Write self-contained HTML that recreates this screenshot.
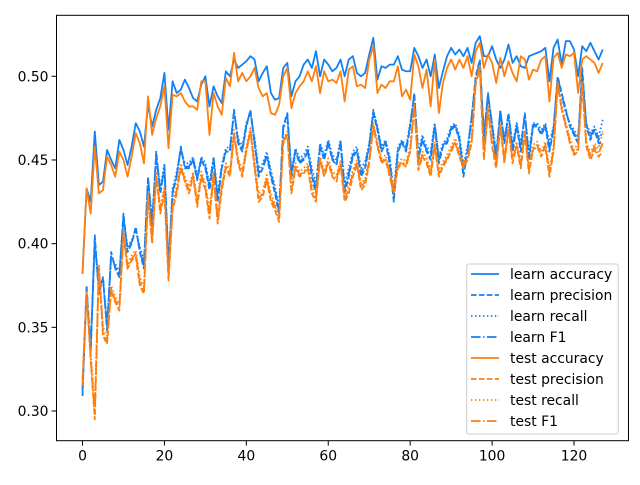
<!DOCTYPE html>
<html><head><meta charset="utf-8"><style>
html,body{margin:0;padding:0;background:#fff;}
svg text{font-family:"DejaVu Sans","Liberation Sans",sans-serif;font-size:13.9px;fill:#000;}
</style></head><body>
<svg id="chart" width="640" height="480" xmlns="http://www.w3.org/2000/svg">
<rect width="640" height="480" fill="#fff"/>
<g id="series"></g>
<rect x="56.5" y="15.3" width="572" height="425.4" fill="none" stroke="#000" stroke-width="1"/>
<g id="xticks"></g>
<g id="yticks"></g>
<g id="legend"></g>
</svg>
<script>
const xTicks=[0,20,40,60,80,100,120];
const yTicks=[0.30,0.35,0.40,0.45,0.50];
const yTickLabels=["0.30","0.35","0.40","0.45","0.50"];
const seriesNames=["learn accuracy","learn precision","learn recall","learn F1","test accuracy","test precision","test recall","test F1"];
const learnAccuracy=[0.382,0.433,0.425,0.467,0.435,0.437,0.456,0.450,0.445,0.462,0.456,0.447,0.458,0.472,0.467,0.458,0.483,0.470,0.480,0.487,0.502,0.468,0.497,0.490,0.492,0.498,0.493,0.487,0.485,0.495,0.500,0.482,0.494,0.488,0.484,0.503,0.500,0.510,0.505,0.507,0.509,0.512,0.510,0.497,0.502,0.506,0.490,0.486,0.487,0.505,0.508,0.488,0.497,0.500,0.507,0.510,0.505,0.515,0.500,0.510,0.507,0.503,0.505,0.510,0.500,0.510,0.512,0.502,0.500,0.502,0.513,0.523,0.498,0.506,0.505,0.507,0.507,0.512,0.504,0.503,0.503,0.517,0.512,0.505,0.510,0.500,0.513,0.493,0.503,0.512,0.517,0.513,0.516,0.512,0.517,0.508,0.520,0.524,0.512,0.512,0.518,0.510,0.505,0.510,0.519,0.508,0.512,0.506,0.505,0.512,0.513,0.514,0.515,0.517,0.497,0.517,0.522,0.507,0.521,0.521,0.516,0.500,0.518,0.515,0.520,0.515,0.510,0.516];
const learnPrecision=[0.309,0.375,0.335,0.405,0.370,0.380,0.348,0.395,0.385,0.380,0.418,0.395,0.400,0.410,0.395,0.385,0.440,0.410,0.455,0.430,0.445,0.385,0.430,0.440,0.458,0.445,0.445,0.450,0.438,0.450,0.445,0.432,0.450,0.425,0.445,0.455,0.455,0.480,0.460,0.455,0.470,0.480,0.460,0.440,0.445,0.452,0.440,0.430,0.418,0.470,0.478,0.440,0.455,0.448,0.450,0.455,0.440,0.430,0.458,0.450,0.460,0.450,0.447,0.460,0.430,0.440,0.452,0.455,0.440,0.445,0.458,0.478,0.468,0.455,0.460,0.448,0.425,0.455,0.460,0.455,0.470,0.490,0.450,0.462,0.455,0.450,0.470,0.448,0.458,0.460,0.468,0.470,0.462,0.440,0.455,0.475,0.500,0.510,0.462,0.490,0.470,0.450,0.480,0.460,0.478,0.455,0.470,0.455,0.478,0.450,0.470,0.470,0.465,0.470,0.455,0.468,0.500,0.490,0.480,0.470,0.465,0.460,0.505,0.470,0.462,0.468,0.460,0.460];
const learnRecall=[0.315,0.372,0.340,0.400,0.375,0.378,0.352,0.392,0.388,0.383,0.415,0.398,0.402,0.408,0.398,0.390,0.438,0.415,0.452,0.433,0.448,0.390,0.433,0.443,0.456,0.448,0.448,0.452,0.440,0.452,0.448,0.436,0.452,0.430,0.447,0.457,0.458,0.478,0.463,0.458,0.472,0.478,0.463,0.445,0.448,0.455,0.444,0.434,0.422,0.468,0.476,0.444,0.457,0.451,0.453,0.458,0.445,0.436,0.460,0.453,0.462,0.453,0.450,0.462,0.436,0.445,0.455,0.458,0.445,0.449,0.460,0.480,0.470,0.458,0.462,0.452,0.432,0.458,0.462,0.458,0.472,0.488,0.455,0.465,0.458,0.455,0.472,0.452,0.460,0.463,0.470,0.472,0.465,0.447,0.458,0.476,0.498,0.508,0.466,0.488,0.472,0.455,0.478,0.463,0.477,0.460,0.472,0.460,0.477,0.455,0.472,0.472,0.468,0.472,0.460,0.470,0.498,0.488,0.478,0.472,0.468,0.464,0.500,0.472,0.466,0.470,0.464,0.474];
const learnF1=[0.312,0.373,0.337,0.402,0.372,0.379,0.350,0.393,0.386,0.381,0.416,0.396,0.401,0.409,0.396,0.387,0.439,0.412,0.453,0.431,0.446,0.387,0.431,0.441,0.457,0.446,0.446,0.451,0.439,0.451,0.446,0.434,0.451,0.427,0.446,0.456,0.456,0.479,0.461,0.456,0.471,0.479,0.461,0.442,0.446,0.453,0.442,0.432,0.420,0.469,0.477,0.442,0.456,0.449,0.451,0.456,0.442,0.433,0.459,0.451,0.461,0.451,0.448,0.461,0.433,0.442,0.453,0.456,0.442,0.447,0.459,0.479,0.469,0.456,0.461,0.450,0.428,0.456,0.461,0.456,0.471,0.489,0.452,0.463,0.456,0.452,0.471,0.450,0.459,0.461,0.469,0.471,0.463,0.443,0.456,0.475,0.499,0.509,0.464,0.489,0.471,0.452,0.479,0.461,0.477,0.457,0.471,0.457,0.477,0.452,0.471,0.471,0.466,0.471,0.457,0.469,0.499,0.489,0.479,0.471,0.466,0.462,0.502,0.471,0.464,0.469,0.462,0.467];
const testAccuracy=[0.382,0.433,0.418,0.458,0.430,0.432,0.452,0.447,0.440,0.455,0.450,0.440,0.452,0.466,0.460,0.448,0.488,0.465,0.475,0.482,0.494,0.457,0.489,0.488,0.490,0.485,0.482,0.482,0.480,0.497,0.497,0.465,0.490,0.482,0.477,0.499,0.494,0.514,0.497,0.502,0.497,0.500,0.505,0.493,0.488,0.490,0.478,0.477,0.483,0.500,0.505,0.481,0.490,0.494,0.497,0.503,0.497,0.506,0.490,0.503,0.497,0.498,0.496,0.503,0.485,0.504,0.506,0.494,0.495,0.493,0.510,0.518,0.490,0.495,0.493,0.497,0.497,0.506,0.488,0.492,0.486,0.513,0.506,0.493,0.504,0.482,0.510,0.478,0.496,0.505,0.510,0.504,0.510,0.505,0.512,0.500,0.515,0.520,0.505,0.513,0.508,0.496,0.511,0.500,0.509,0.502,0.497,0.512,0.510,0.498,0.504,0.503,0.510,0.512,0.485,0.511,0.514,0.505,0.513,0.512,0.514,0.490,0.510,0.512,0.510,0.508,0.502,0.508];
const testPrecision=[0.315,0.370,0.330,0.295,0.385,0.345,0.340,0.372,0.365,0.360,0.405,0.385,0.390,0.392,0.375,0.370,0.428,0.400,0.440,0.418,0.430,0.378,0.420,0.430,0.445,0.437,0.430,0.440,0.422,0.440,0.432,0.415,0.440,0.412,0.432,0.445,0.440,0.465,0.448,0.440,0.455,0.467,0.445,0.425,0.428,0.438,0.425,0.420,0.413,0.460,0.465,0.430,0.445,0.440,0.442,0.445,0.430,0.425,0.450,0.440,0.448,0.440,0.437,0.447,0.425,0.430,0.440,0.447,0.432,0.435,0.448,0.470,0.458,0.448,0.450,0.440,0.430,0.445,0.448,0.446,0.455,0.482,0.444,0.452,0.448,0.440,0.458,0.440,0.446,0.450,0.455,0.460,0.452,0.445,0.450,0.460,0.495,0.505,0.450,0.480,0.458,0.445,0.470,0.448,0.468,0.448,0.458,0.445,0.465,0.442,0.456,0.458,0.452,0.458,0.440,0.455,0.495,0.480,0.470,0.460,0.453,0.455,0.495,0.458,0.450,0.456,0.452,0.455];
const testRecall=[0.320,0.372,0.335,0.302,0.388,0.350,0.345,0.375,0.368,0.364,0.408,0.388,0.393,0.396,0.380,0.374,0.430,0.405,0.443,0.422,0.434,0.382,0.424,0.434,0.448,0.440,0.434,0.443,0.426,0.443,0.436,0.420,0.443,0.417,0.436,0.448,0.444,0.468,0.451,0.444,0.458,0.469,0.449,0.430,0.432,0.441,0.430,0.424,0.418,0.462,0.467,0.434,0.448,0.443,0.445,0.448,0.435,0.430,0.452,0.443,0.451,0.443,0.441,0.450,0.430,0.435,0.444,0.450,0.436,0.439,0.451,0.472,0.461,0.451,0.453,0.444,0.435,0.448,0.451,0.449,0.458,0.484,0.448,0.455,0.451,0.444,0.461,0.444,0.449,0.453,0.458,0.463,0.455,0.449,0.453,0.463,0.497,0.507,0.454,0.482,0.461,0.449,0.472,0.452,0.470,0.452,0.461,0.449,0.467,0.446,0.459,0.461,0.455,0.461,0.445,0.458,0.497,0.482,0.472,0.463,0.456,0.460,0.497,0.461,0.454,0.460,0.457,0.466];
const testF1=[0.318,0.371,0.332,0.298,0.386,0.347,0.342,0.373,0.366,0.362,0.406,0.386,0.391,0.394,0.377,0.372,0.429,0.402,0.441,0.420,0.432,0.380,0.422,0.432,0.446,0.438,0.432,0.441,0.424,0.441,0.434,0.417,0.441,0.414,0.434,0.446,0.442,0.466,0.449,0.442,0.456,0.468,0.447,0.427,0.430,0.439,0.427,0.422,0.415,0.461,0.466,0.432,0.446,0.441,0.443,0.446,0.432,0.427,0.451,0.441,0.449,0.441,0.439,0.448,0.427,0.432,0.442,0.448,0.434,0.437,0.449,0.471,0.459,0.449,0.451,0.442,0.432,0.446,0.449,0.447,0.456,0.483,0.446,0.453,0.449,0.442,0.459,0.442,0.447,0.451,0.456,0.461,0.453,0.447,0.451,0.461,0.496,0.506,0.452,0.481,0.459,0.447,0.471,0.450,0.469,0.450,0.459,0.447,0.466,0.444,0.457,0.459,0.453,0.459,0.442,0.456,0.496,0.481,0.471,0.461,0.454,0.457,0.496,0.459,0.452,0.458,0.454,0.460];

const NS="http://www.w3.org/2000/svg";
const L=56.5,R=628.5,T=15.3,B=440.7;
function xs(i){return 82.5+i*4.096;}
function ys(v){return 411+(0.30-v)*(334.7/0.20);}
const BLUE="#1380f4",ORANGE="#ff7f0e";
const dashes=["", "5.55,2.4", "1.5,2.475", "9.6,2.4,1.5,2.4"];
const allSeries=[learnAccuracy,learnPrecision,learnRecall,learnF1,testAccuracy,testPrecision,testRecall,testF1];
const sg=document.getElementById('series');
const clip=document.createElementNS(NS,'clipPath');clip.setAttribute('id','pc');
const cr=document.createElementNS(NS,'rect');cr.setAttribute('x',L);cr.setAttribute('y',T);cr.setAttribute('width',R-L);cr.setAttribute('height',B-T);
clip.appendChild(cr);sg.appendChild(clip);sg.setAttribute('clip-path','url(#pc)');
allSeries.forEach((arr,k)=>{
  const p=document.createElementNS(NS,'path');
  
  
  p.setAttribute('d',arr.map((v,i)=>(i?'L':'M')+xs(i).toFixed(2)+','+ys(v).toFixed(2)).join(''));
  p.setAttribute('fill','none');
  p.setAttribute('stroke',k<4?BLUE:ORANGE);
  p.setAttribute('stroke-width','1.8');
  p.setAttribute('stroke-linejoin','round');
  if(dashes[k%4])p.setAttribute('stroke-dasharray',dashes[k%4]);
  sg.appendChild(p);
});
const xg=document.getElementById('xticks');
xTicks.forEach(t=>{
  const l=document.createElementNS(NS,'line');
  
  
  l.setAttribute('x1',xs(t));l.setAttribute('x2',xs(t));l.setAttribute('y1',B);l.setAttribute('y2',B+4.9);l.setAttribute('stroke','#000');
  xg.appendChild(l);
  const tx=document.createElementNS(NS,'text');
  
  
  tx.setAttribute('x',xs(t));tx.setAttribute('y',B+20);tx.setAttribute('text-anchor','middle');tx.textContent=t;
  xg.appendChild(tx);
});
const yg=document.getElementById('yticks');
yTicks.forEach((t,i)=>{
  const l=document.createElementNS(NS,'line');
  
  
  l.setAttribute('x1',L-4.9);l.setAttribute('x2',L);l.setAttribute('y1',ys(t));l.setAttribute('y2',ys(t));l.setAttribute('stroke','#000');
  yg.appendChild(l);
  const tx=document.createElementNS(NS,'text');
  
  
  tx.setAttribute('x',L-8);tx.setAttribute('y',ys(t)+5);tx.setAttribute('text-anchor','end');tx.textContent=yTickLabels[i];
  yg.appendChild(tx);
});
const lg=document.getElementById('legend');
const box=document.createElementNS(NS,'rect');


box.setAttribute('x',466.7);box.setAttribute('y',264);box.setAttribute('width',151.5);box.setAttribute('height',170);box.setAttribute('rx',2);
box.setAttribute('fill','#fff');box.setAttribute('fill-opacity','0.8');box.setAttribute('stroke','#ccc');
lg.appendChild(box);
seriesNames.forEach((n,k)=>{
  const y=274+k*21;
  const l=document.createElementNS(NS,'line');
  
  
  l.setAttribute('x1',471);l.setAttribute('x2',499);l.setAttribute('y1',y);l.setAttribute('y2',y);
  l.setAttribute('stroke',k<4?BLUE:ORANGE);l.setAttribute('stroke-width','1.8');
  if(dashes[k%4])l.setAttribute('stroke-dasharray',dashes[k%4]);
  lg.appendChild(l);
  const tx=document.createElementNS(NS,'text');
  
  
  tx.setAttribute('x',510);tx.setAttribute('y',y+5);tx.textContent=n;
  lg.appendChild(tx);
});
</script>
</body></html>
